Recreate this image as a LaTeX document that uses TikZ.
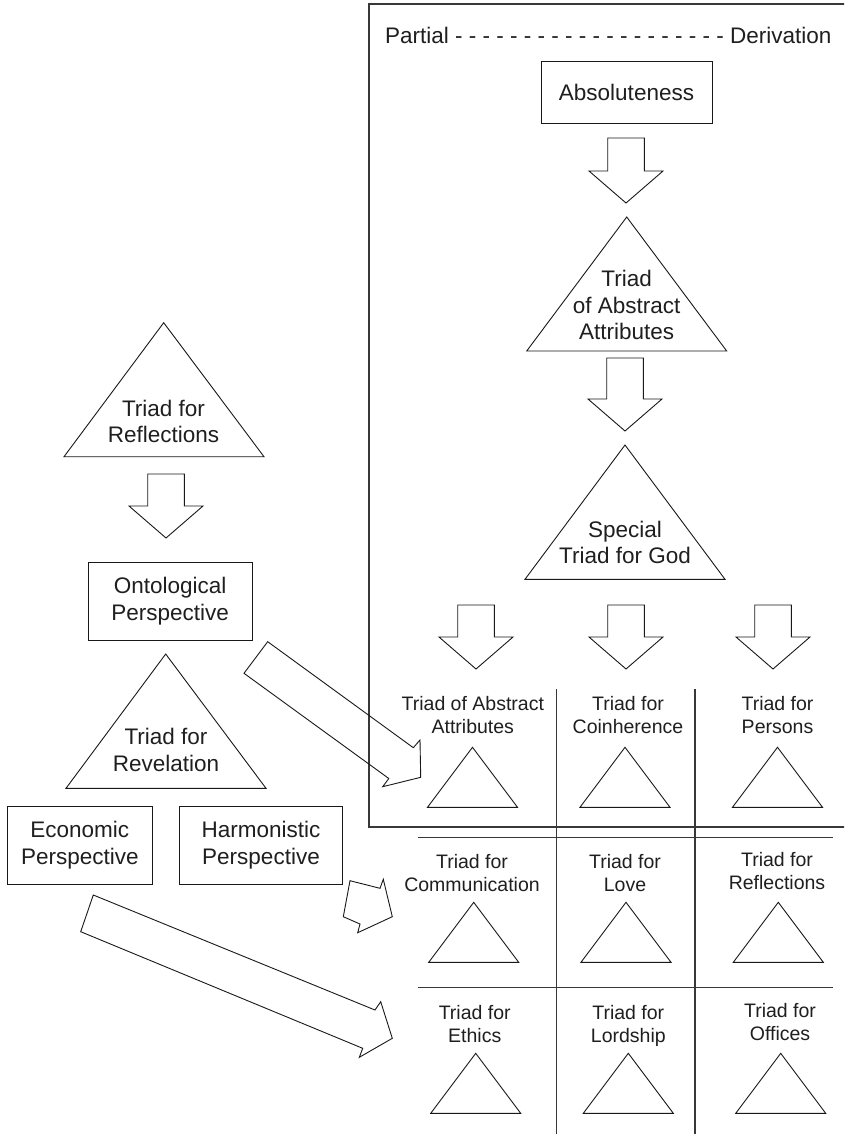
\documentclass[tikz,border=0pt]{standalone}
\usepackage{fontspec}
\setmainfont{Liberation Sans}
\begin{document}
\begin{tikzpicture}[x=1pt,y=-1pt,
  big/.style={font=\fontsize{22.5}{26.7}\selectfont, align=center, inner sep=0pt, text=black!88},
  small/.style={font=\fontsize{19.5}{23}\selectfont, align=center, inner sep=0pt, text=black!88},
  boxnode/.style={big, draw=black!90, line width=0.9pt},
  outline/.style={draw=black!90, line width=0.9pt, line join=miter},
  gridline/.style={draw=black!78, line width=1.4pt},
  pics/blockdown/.style={code={
    \draw[outline] (-18.3,0) -- (18.3,0) -- (18.3,#1) -- (37,#1) -- (0,#1+32) -- (-37,#1) -- (-18.3,#1) -- cycle;}}
]
\useasboundingbox (0,0) rectangle (844,1134);
\clip (0,0) rectangle (844,1134);
\fill[white] (0,0) rectangle (844,1134);

% frame of the derivation panel
\draw[gridline, line width=1.2pt] (850,4) -- (369,4) -- (369,827) -- (850,827);

% header
\node[big, anchor=base west] (pd) at (385,43.3) {Partial - - - - - - - - - - - - - - - - - - - - Derivation};

% right column
\node[boxnode, minimum width=171pt, minimum height=62pt] (abs) at (626.5,92) {Absoluteness};
\pic at (626,138) {blockdown=33};
\coordinate (t1) at (626.7,217);
\draw[outline] (t1) -- (726.7,351) -- (526.7,351) -- cycle;
\node[big, anchor=north] (t1txt) at (626.7,269.9) {Triad\\of Abstract\\Attributes};
\pic at (625,358) {blockdown=41};
\coordinate (t2) at (625,445);
\draw[outline] (t2) -- (725,579.3) -- (525,579.3) -- cycle;
\node[big, anchor=north] (t2txt) at (625,520.6) {Special\\Triad for God};
\pic at (476,605) {blockdown=32};
\pic at (626,605) {blockdown=32};
\pic at (773,605) {blockdown=32};

% grid
\draw[gridline] (556.7,689) -- (556.7,1134);
\draw[gridline] (695,689) -- (695,1134);
\draw[gridline] (418.3,837.7) -- (833.3,837.7);
\draw[gridline] (418.3,987.7) -- (833.3,987.7);

% row 1
\node[small, anchor=north] (c11) at (472.8,696) {Triad of Abstract\\Attributes};
\node[small, anchor=north] (c12) at (628,696) {Triad for\\Coinherence};
\node[small, anchor=north] (c13) at (777.5,696) {Triad for\\Persons};
\foreach \cx in {472.5,625,777.5}
  \draw[outline] (\cx,747.3) -- (\cx+45,807.3) -- (\cx-45,807.3) -- cycle;
% row 2
\node[small, anchor=north] (c21) at (472,854.3) {Triad for\\Communication};
\node[small, anchor=north] (c22) at (625,854.3) {Triad for\\Love};
\node[small, anchor=north] (c23) at (777,852) {Triad for\\Reflections};
\foreach \cx in {473.7,626,778.3}
  \draw[outline] (\cx,902.3) -- (\cx+45,962.3) -- (\cx-45,962.3) -- cycle;
% row 3
\node[small, anchor=north] (c31) at (474.7,1005.3) {Triad for\\Ethics};
\node[small, anchor=north] (c32) at (628.3,1005.3) {Triad for\\Lordship};
\node[small, anchor=north] (c33) at (780,1002.7) {Triad for\\Offices};
\foreach \cx in {475.7,628.3,780.7}
  \draw[outline] (\cx,1053.3) -- (\cx+45,1113.3) -- (\cx-45,1113.3) -- cycle;

% left column
\coordinate (t3) at (163.7,322.7);
\draw[outline] (t3) -- (264,456.7) -- (64,456.7) -- cycle;
\node[big, anchor=north] (t3txt) at (163.5,399.6) {Triad for\\Reflections};
\pic at (166,474) {blockdown=32};
\node[boxnode, minimum width=163.7pt, minimum height=78.4pt] (onto) at (170.2,601.5) {Ontological\\Perspective};
\coordinate (t4) at (165.7,654);
\draw[outline] (t4) -- (266,788.3) -- (66,788.3) -- cycle;
\node[big, anchor=north] (t4txt) at (166,727.9) {Triad for\\Revelation};
\node[boxnode, minimum width=145pt, minimum height=78.3pt] (econ) at (79.8,845.2) {Economic\\Perspective};
\node[boxnode, minimum width=163.4pt, minimum height=78.3pt] (harm) at (261,845.2) {Harmonistic\\Perspective};

% diagonal block arrows
\draw[outline] (267.7,641.7) -- (413.3,747.7) -- (420,740) -- (420.7,777.3) -- (382.7,786.7) -- (388.8,778.5) -- (244,673.3) -- cycle;
\draw[outline] (350,880.7) -- (380,888.3) -- (383.3,879.3) -- (392.3,916.7) -- (357.7,932.7) -- (360,924) -- (343.3,916.7) -- cycle;
\draw[outline] (93.3,895) -- (375,1010) -- (380.7,1001.7) -- (392.3,1038.3) -- (359.3,1057.3) -- (362.7,1048.3) -- (80.7,931.7) -- cycle;
\end{tikzpicture}
\end{document}
